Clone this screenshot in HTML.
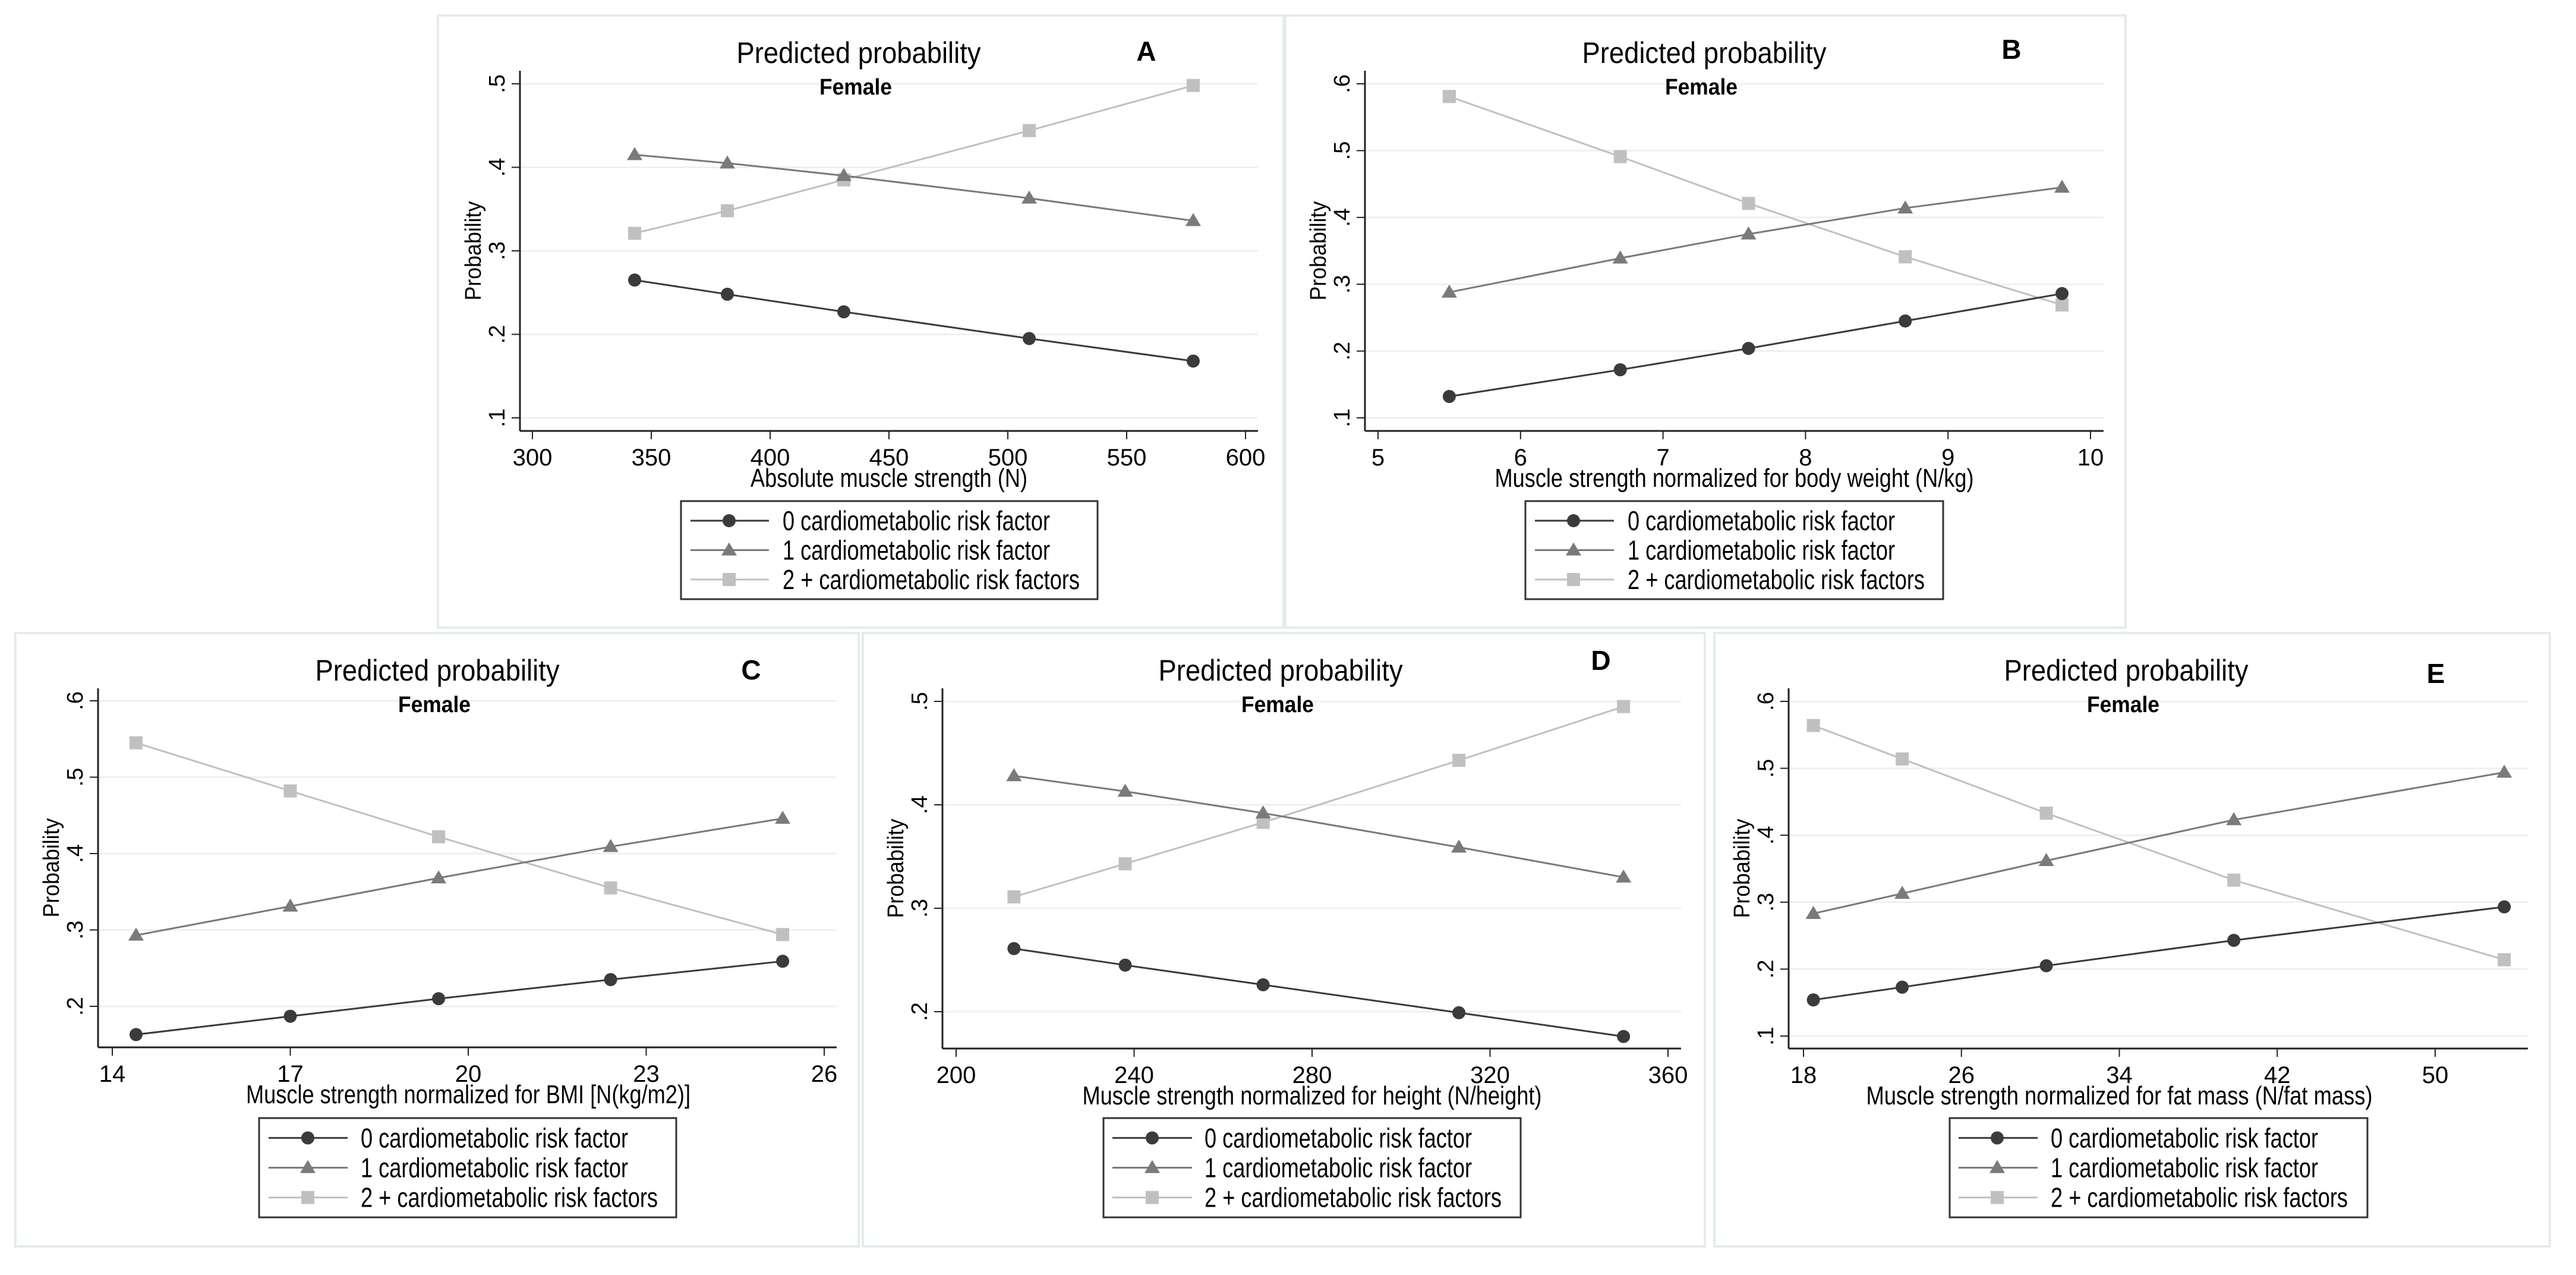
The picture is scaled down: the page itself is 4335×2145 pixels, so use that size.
<!DOCTYPE html>
<html><head><meta charset="utf-8"><style>
html,body{margin:0;padding:0;background:#fff;}
svg{display:block;}
text{font-family:"Liberation Sans Narrow","Liberation Sans",sans-serif;fill:#000;}
.reg{font-family:"Liberation Sans",sans-serif;}
</style></head><body>
<svg id="fig" width="4335" height="2145" viewBox="0 0 4335 2145" xmlns="http://www.w3.org/2000/svg"></svg>
<script>
// ---- data ----
const panelIds = ["A","B","C","D","E"];
const xLabels = ["Absolute muscle strength (N)","Muscle strength normalized for body weight (N/kg)","Muscle strength normalized for BMI [N(kg/m2)]","Muscle strength normalized for height (N/height)","Muscle strength normalized for fat mass (N/fat mass)"];
const xA = [343,382,431,509,578];
const s0A = [0.265,0.248,0.227,0.195,0.168];
const s1A = [0.415,0.405,0.390,0.363,0.336];
const s2A = [0.321,0.348,0.385,0.444,0.498];
const xB = [5.5,6.7,7.6,8.7,9.8];
const s0B = [0.132,0.172,0.204,0.245,0.286];
const s1B = [0.288,0.339,0.375,0.414,0.445];
const s2B = [0.581,0.491,0.421,0.341,0.269];
const xC = [14.4,17,19.5,22.4,25.3];
const s0C = [0.163,0.187,0.210,0.235,0.259];
const s1C = [0.293,0.331,0.368,0.409,0.446];
const s2C = [0.545,0.482,0.422,0.355,0.294];
const xD = [213,238,269,313,350];
const s0D = [0.261,0.245,0.226,0.199,0.176];
const s1D = [0.428,0.413,0.392,0.359,0.330];
const s2D = [0.311,0.343,0.383,0.443,0.495];
const xE = [18.5,23,30.3,39.8,53.5];
const s0E = [0.154,0.173,0.205,0.243,0.293];
const s1E = [0.283,0.313,0.362,0.423,0.494];
const s2E = [0.564,0.514,0.433,0.333,0.214];
const xTicksA = [300,350,400,450,500,550,600];
const xTicksB = [5,6,7,8,9,10];
const xTicksC = [14,17,20,23,26];
const xTicksD = [200,240,280,320,360];
const xTicksE = [18,26,34,42,50];
const yTicksA = [0.1,0.2,0.3,0.4,0.5];
const yTicksB = [0.1,0.2,0.3,0.4,0.5,0.6];
const yTicksC = [0.2,0.3,0.4,0.5,0.6];
const yTicksD = [0.2,0.3,0.4,0.5];
const yTicksE = [0.1,0.2,0.3,0.4,0.5,0.6];
const legendLabels = ["0 cardiometabolic risk factor","1 cardiometabolic risk factor","2 + cardiometabolic risk factors"];

// ---- layout (pixels) ----
const L = [
 {box:[737,26,2160,1056], ax:875, ar:2117, ab:725, at:119, xp0:896, xp1:2096, yp0:703, yp1:141, tx:1445, ty:89, lx:1929, ly:85, xlw:466, lg:[1146,843,1847,1008], lt:1317, ll:[1162,1294,1227], xs:xA,s:[s0A,s1A,s2A],xt:xTicksA,yt:yTicksA},
 {box:[2163,26,3577,1056], ax:2297, ar:3540, ab:725, at:119, xp0:2319, xp1:3518, yp0:703, yp1:141, tx:2868, ty:89, lx:3385, ly:82, xlw:806, lg:[2567,843,3270,1008], lt:2739, ll:[2583,2716,2648], xs:xB,s:[s0B,s1B,s2B],xt:xTicksB,yt:yTicksB},
 {box:[26,1065,1445,2097], ax:165, ar:1408, ab:1762, at:1158, xp0:189, xp1:1387, yp0:1693, yp1:1179, tx:736, ty:1128, lx:1264, ly:1126, xlw:748, lg:[436,1881,1138,2048], lt:607, ll:[452,585,518], xs:xC,s:[s0C,s1C,s2C],xt:xTicksC,yt:yTicksC},
 {box:[1452,1065,2869,2097], ax:1586, ar:2829, ab:1764, at:1158, xp0:1609, xp1:2807, yp0:1702, yp1:1180, tx:2155, ty:1128, lx:2694, ly:1110, xlw:773, lg:[1857,1881,2559,2048], lt:2027, ll:[1872,2006,1939], xs:xD,s:[s0D,s1D,s2D],xt:xTicksD,yt:yTicksD},
 {box:[2885,1065,4291,2097], ax:3010, ar:4254, ab:1764, at:1158, xp0:3035, xp1:4098, yp0:1743, yp1:1180, tx:3578, ty:1128, lx:4099, ly:1132, xlw:852, lg:[3281,1881,3984,2048], lt:3451, ll:[3296,3429,3361], xs:xE,s:[s0E,s1E,s2E],xt:xTicksE,yt:yTicksE}
];
const colors = ["#3b3b3b","#7a7a7a","#c0c0c0"];
const NS = "http://www.w3.org/2000/svg";
const svg = document.getElementById("fig");
function mk(tag, attrs, parent){
  const e = document.createElementNS(NS, tag);
  for (const k in attrs) e.setAttribute(k, attrs[k]);
  (parent||svg).appendChild(e);
  return e;
}
function fmt(v){ return ("" + Math.round(v*10)/10).replace(/^0/, ""); }
function marker(g, kind, cx, cy, col){
  let m;
  if (kind === 0) m = mk("circle",{cx:cx,cy:cy,r:11,fill:col},g);
  else if (kind === 1) m = mk("polygon",{points:(cx-13)+","+(cy+9)+" "+(cx+13)+","+(cy+9)+" "+cx+","+(cy-13),fill:col},g);
  else m = mk("rect",{x:cx-11,y:cy-11,width:22,height:22,fill:col},g);
  return m;
}
L.forEach((p, i) => {
  const id = panelIds[i].toLowerCase();
  const g = mk("g",{});
  
  
  const frame = mk("rect",{x:p.box[0],y:p.box[1],width:p.box[2]-p.box[0],height:p.box[3]-p.box[1],fill:"none",stroke:"#e4ecec","stroke-width":4},g);
  
  
  const x0 = p.xt[0], x1 = p.xt[p.xt.length-1];
  const y0 = p.yt[0], y1 = p.yt[p.yt.length-1];
  const sx = v => p.xp0 + (v - x0) / (x1 - x0) * (p.xp1 - p.xp0);
  const sy = v => p.yp0 + (v - y0) / (y1 - y0) * (p.yp1 - p.yp0);
  // grid + y ticks
  p.yt.forEach(v => {
    const y = sy(v);
    const gl = mk("line",{x1:p.ax,x2:p.ar,y1:y,y2:y,stroke:"#eaf2f2","stroke-width":3},g);
    
    
    mk("line",{x1:p.ax-14,x2:p.ax,y1:y,y2:y,stroke:"#222","stroke-width":2},g);
    const t = mk("text",{x:0,y:0,"font-size":38,"text-anchor":"middle",class:"reg",transform:"translate("+(p.ax-26)+","+y+") rotate(-90)"},g);
    t.textContent = fmt(v);
    
    
  });
  p.xt.forEach(v => {
    const x = sx(v);
    mk("line",{x1:x,x2:x,y1:p.ab,y2:p.ab+14,stroke:"#222","stroke-width":2},g);
    const t = mk("text",{x:x,y:p.ab+58,"font-size":40,"text-anchor":"middle",class:"reg"},g);
    t.textContent = v;
    
    
  });
  // axes
  const ya = mk("line",{x1:p.ax,x2:p.ax,y1:p.at,y2:p.ab,stroke:"#222","stroke-width":3},g);
  
  
  const xa = mk("line",{x1:p.ax,x2:p.ar,y1:p.ab,y2:p.ab,stroke:"#222","stroke-width":3},g);
  
  
  // titles
  const tt = mk("text",{x:p.tx,y:p.ty+17,"font-size":50,"text-anchor":"middle",textLength:411,lengthAdjust:"spacingAndGlyphs"},g);
  tt.textContent = "Predicted probability";
  
  
  const pl = mk("text",{x:p.lx,y:p.ly+17,"font-size":46,"font-weight":"bold","text-anchor":"middle",class:"reg"},g);
  pl.textContent = panelIds[i];
  
  
  const fe = mk("text",{x:p.tx-5,y:p.at+40,"font-size":38,"font-weight":"bold","text-anchor":"middle",class:"reg",textLength:122,lengthAdjust:"spacingAndGlyphs"},g);
  fe.textContent = "Female";
  
  
  const xl = mk("text",{x:(p.xp0+p.xp1)/2,y:p.ab+94,"font-size":44,"text-anchor":"middle",textLength:p.xlw,lengthAdjust:"spacingAndGlyphs"},g);
  xl.textContent = xLabels[i];
  
  
  const yl = mk("text",{x:0,y:0,"font-size":38,"text-anchor":"middle",class:"reg",textLength:167,lengthAdjust:"spacingAndGlyphs",transform:"translate("+(p.ax-66)+","+((p.at+p.ab)/2)+") rotate(-90)"},g);
  yl.textContent = "Probability";
  
  
  // series (light first so dark on top)
  [2,1,0].forEach(k => {
    const sg = mk("g",{},g);
    
    
    const pts = p.xs.map((xv, j) => sx(xv) + "," + sy(p.s[k][j])).join(" ");
    const pl2 = mk("polyline",{points:pts,fill:"none",stroke:colors[k],"stroke-width":3},sg);
    
    
    p.xs.forEach((xv, j) => {
      const m = marker(sg, k, sx(xv), sy(p.s[k][j]), colors[k]);
      
      
    });
  });
  // legend
  const lg = mk("g",{},g);
  
  
  mk("rect",{x:p.lg[0],y:p.lg[1],width:p.lg[2]-p.lg[0],height:p.lg[3]-p.lg[1],fill:"#fff",stroke:"#333","stroke-width":3},lg);
  const rowH = (p.lg[3]-p.lg[1]);
  [0,1,2].forEach(k => {
    const cy = p.lg[1] + rowH*(0.2 + 0.3*k);
    const e = mk("g",{},lg);
    
    
    mk("line",{x1:p.ll[0],x2:p.ll[1],y1:cy,y2:cy,stroke:colors[k],"stroke-width":3},e);
    marker(e, k, p.ll[2], cy, colors[k]);
    const t = mk("text",{x:p.lt,y:cy+16,"font-size":46,textLength:(k===2?500:450),lengthAdjust:"spacingAndGlyphs"},e);
    t.textContent = legendLabels[k];
  });
});
</script>
</body></html>
